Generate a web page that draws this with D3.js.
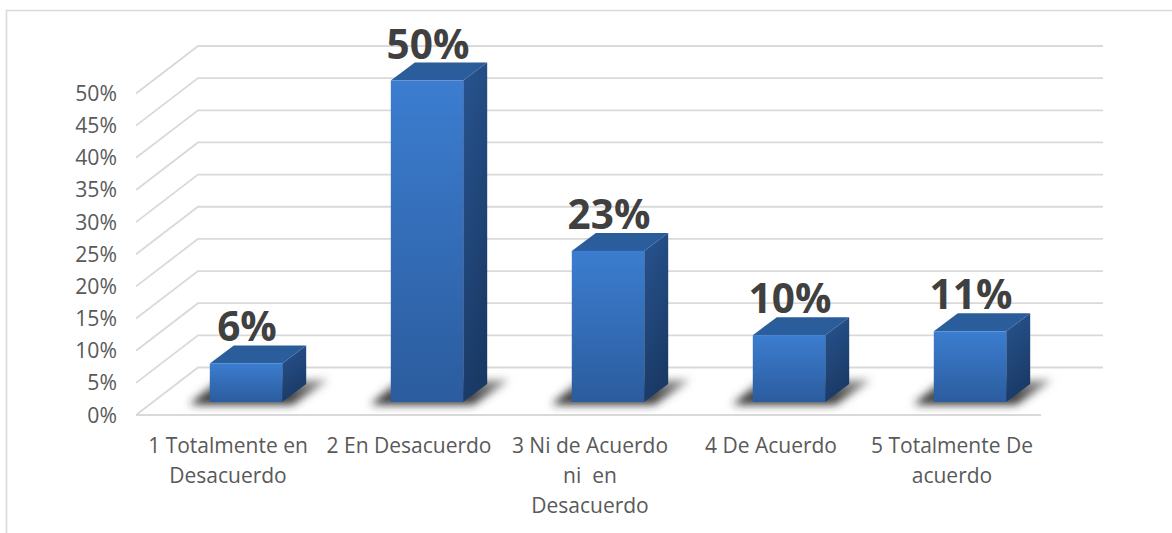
<!DOCTYPE html>
<html><head><meta charset="utf-8">
<script src="https://cdn.jsdelivr.net/npm/d3@7"></script>
<style>html,body{margin:0;padding:0;background:#fff}svg{display:block}</style>
</head><body><svg id="c" width="1172" height="533"></svg>
<script>
const categories = [["1 Totalmente en","Desacuerdo"],["2 En Desacuerdo"],["3 Ni de Acuerdo","ni  en","Desacuerdo"],["4 De Acuerdo"],["5 Totalmente De","acuerdo"]];
const values = [6, 50, 23.5, 10.4, 11];
const valueLabels = ["6%","50%","23%","10%","11%"];
const ticks = [0,5,10,15,20,25,30,35,40,45,50];

const svg = d3.select("#c");
const floorLeft=136, floorRight=1041, floorY=415, top50=93.5;
const wallDx=62, wallDy=-47.5;
const barDx=19.5, barDy=-13;
const barDepthX=24, barDepthY=-18;

const y=d3.scaleLinear().domain([0,50]).range([floorY,top50]);
const x=d3.scaleBand().domain(d3.range(values.length)).range([floorLeft,floorRight]).paddingInner(.6).paddingOuter(.3);

const defs=svg.append("defs");
const grad=(id,x2,y2,stops)=>{const g=defs.append("linearGradient").attr("id",id).attr("x1",0).attr("y1",0).attr("x2",x2).attr("y2",y2);
 stops.forEach(([o,c,a])=>g.append("stop").attr("offset",o).attr("stop-color",c).attr("stop-opacity",a===undefined?1:a));};
grad("front",0,1,[[0,"#3c7dd0"],[1,"#2b5c9e"]]);
grad("side",0.3,1,[[0,"#285490"],[1,"#1a3a66"]]);
grad("top",0,1,[[0,"#2a5c98"],[1,"#2b5e9e"]]);
grad("shadow",0,1,[[0,"#777",.7],[.55,"#444",.95],[1,"#222",1]]);
const f=defs.append("filter").attr("id","blur").attr("x","-30%").attr("y","-60%").attr("width","160%").attr("height","220%");
f.append("feGaussianBlur").attr("stdDeviation",4.5);

svg.append("path").attr("d",`M6.5,533V10.5H1172`).attr("fill","none").attr("stroke","#d9d9d9").attr("stroke-width",1.6);

const grid=svg.append("g").attr("fill","none").attr("stroke","#d9d9d9").attr("stroke-width",1.8);
grid.selectAll("path").data(ticks).join("path")
 .attr("d",t=>`M${floorLeft},${y(t)}L${floorLeft+wallDx},${y(t)+wallDy}H${floorRight+wallDx}`);
grid.append("line").attr("x1",floorLeft).attr("x2",floorRight).attr("y1",floorY).attr("y2",floorY);

svg.append("g").selectAll("text").data(ticks).join("text")
 .attr("x",117).attr("y",t=>y(t)+7.5).attr("text-anchor","end")
 .attr("font-family","'Open Sans'").attr("font-size",21.2).attr("fill","#595959")
 .text(t=>t+"%");

const bars=svg.append("g").selectAll("g").data(values).join("g");
const bx=(d,i)=>x(i)+barDx, bw=x.bandwidth(), by0=floorY+barDy;
bars.append("path").attr("fill","url(#shadow)").attr("filter","url(#blur)")
 .attr("d",(d,i)=>{const l=bx(d,i);return `M${l-20},${by0+2.5}L${l+8},${by0-22}H${l+bw+46}L${l+bw+10},${by0+2.5}Z`;});
bars.append("path").attr("fill","url(#top)")
 .attr("d",(d,i)=>{const l=bx(d,i),t=y(d)+barDy;return `M${l},${t}l${barDepthX},${barDepthY}h${bw}l${-barDepthX},${-barDepthY}Z`;});
bars.append("path").attr("fill","url(#side)")
 .attr("d",(d,i)=>{const r=bx(d,i)+bw,t=y(d)+barDy;return `M${r},${t}l${barDepthX},${barDepthY}V${by0+barDepthY}l${-barDepthX},${-barDepthY}Z`;});
bars.append("rect").attr("fill","url(#front)")
 .attr("x",bx).attr("y",d=>y(d)+barDy).attr("width",bw).attr("height",d=>by0-(y(d)+barDy));

svg.append("g").selectAll("text").data(values).join("text")
 .attr("x",(d,i)=>bx(d,i)+bw/2+1).attr("y",d=>y(d)+barDy-22)
 .attr("text-anchor","middle").attr("font-family","'Open Sans'").attr("font-weight",700)
 .attr("font-size",40.5).attr("fill","#404040").text((d,i)=>valueLabels[i]);

const cat=svg.append("g").selectAll("text").data(categories).join("text")
 .attr("text-anchor","middle").attr("font-family","'Open Sans'").attr("font-size",21).attr("fill","#595959")
 .style("white-space","pre");
cat.each(function(lines,i){
 d3.select(this).selectAll("tspan").data(lines).join("tspan")
  .attr("x",x(i)+x.bandwidth()/2+1.5).attr("y",(l,j)=>453+j*30).text(l=>l);
});
</script></body></html>
